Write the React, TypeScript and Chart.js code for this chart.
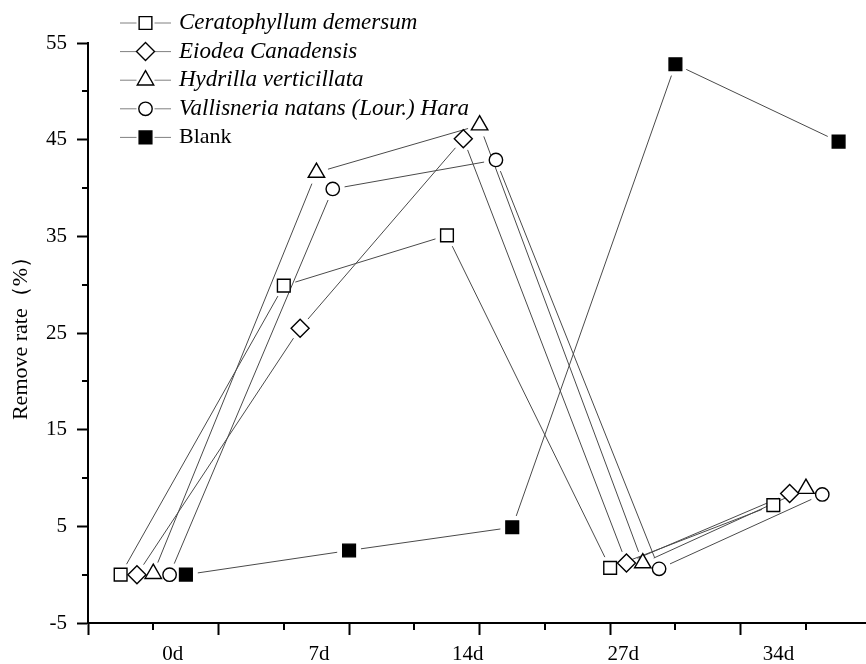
import React, { useEffect, useRef } from 'react';
import { Chart, registerables } from 'chart.js';

Chart.register(...registerables);

// ---- data ----
const categories = ['0d', '7d', '14d', '27d', '34d'];
const categoryCenters = [0.5, 1.75, 3.0, 4.25, 5.5];
const categoryLabelX = [0.65, 1.77, 2.91, 4.1, 5.29];
const seriesNames = [
  'Ceratophyllum demersum',
  'Eiodea Canadensis',
  'Hydrilla verticillata',
  'Vallisneria natans (Lour.) Hara',
  'Blank',
];
const seriesOffsets = [-0.25, -0.125, 0, 0.125, 0.25];
const ceratophyllum = [0, 29.9, 35.1, 0.7, 7.2];
const eiodea = [0, 25.5, 45.1, 1.2, 8.4];
const hydrilla = [0.1, 41.6, 46.5, 1.2, 8.9];
const vallisneria = [0, 39.9, 42.9, 0.6, 8.3];
const blank = [0, 2.5, 4.9, 52.8, 44.8];
const yTickValues = [-5, 0, 5, 10, 15, 20, 25, 30, 35, 40, 45, 50, 55];
const yLabelValues = [-5, 5, 15, 25, 35, 45, 55];
const xMajorTicks = [0, 1, 2, 3, 4, 5];
const xMinorTicks = [0.5, 1.5, 2.5, 3.5, 4.5, 5.5];

const seriesValues = [ceratophyllum, eiodea, hydrilla, vallisneria, blank];
const pointStyles = ['rect', 'rectRot', 'triangle', 'circle', 'rect'];
const pointRadii = [9, 9, 9.5, 6.7, 9];
const pointFills = ['#ffffff', '#ffffff', '#ffffff', '#ffffff', '#000000'];
const italicNames = [true, true, true, true, false];

const FONT = '"Liberation Serif", "Times New Roman", serif';
const LINE_COLOR = '#4a4a4a';
const LEGEND_LINE_COLOR = '#808080';

function drawMarker(ctx: CanvasRenderingContext2D, style: string, x: number, y: number, r: number, fill: string) {
  ctx.save();
  ctx.fillStyle = fill;
  ctx.strokeStyle = '#000';
  ctx.lineWidth = 1.4;
  ctx.beginPath();
  if (style === 'rect') {
    const s = Math.SQRT1_2 * r;
    ctx.rect(x - s, y - s, 2 * s, 2 * s);
  } else if (style === 'rectRot') {
    ctx.moveTo(x, y - r);
    ctx.lineTo(x + r, y);
    ctx.lineTo(x, y + r);
    ctx.lineTo(x - r, y);
    ctx.closePath();
  } else if (style === 'triangle') {
    let rad = 0;
    ctx.moveTo(x + Math.sin(rad) * r, y - Math.cos(rad) * r);
    rad += (2 * Math.PI) / 3;
    ctx.lineTo(x + Math.sin(rad) * r, y - Math.cos(rad) * r);
    rad += (2 * Math.PI) / 3;
    ctx.lineTo(x + Math.sin(rad) * r, y - Math.cos(rad) * r);
    ctx.closePath();
  } else {
    ctx.arc(x, y, r, 0, Math.PI * 2);
  }
  ctx.fill();
  ctx.stroke();
  ctx.restore();
}

const gapLines = {
  id: 'gapLines',
  beforeDatasetsDraw(chart: any) {
    const ctx = chart.ctx;
    const GAP = 12;
    chart.data.datasets.forEach((_ds: any, i: number) => {
      const pts = chart.getDatasetMeta(i).data;
      ctx.save();
      ctx.strokeStyle = LINE_COLOR;
      ctx.lineWidth = 1;
      for (let k = 0; k < pts.length - 1; k++) {
        const a = pts[k];
        const b = pts[k + 1];
        const dx = b.x - a.x;
        const dy = b.y - a.y;
        const len = Math.hypot(dx, dy);
        if (len <= 2 * GAP) continue;
        const ux = dx / len;
        const uy = dy / len;
        ctx.beginPath();
        ctx.moveTo(a.x + ux * GAP, a.y + uy * GAP);
        ctx.lineTo(b.x - ux * GAP, b.y - uy * GAP);
        ctx.stroke();
      }
      ctx.restore();
    });
  },
};

const minorTicks = {
  id: 'minorTicks',
  afterDraw(chart: any) {
    const { ctx, scales } = chart;
    const xs = scales.x;
    const ys = scales.y;
    ctx.save();
    ctx.strokeStyle = '#000';
    ctx.lineWidth = 2;
    yTickValues
      .filter((v) => !yLabelValues.includes(v))
      .forEach((v) => {
        const py = Math.round(ys.getPixelForValue(v));
        ctx.beginPath();
        ctx.moveTo(ys.right - 6, py);
        ctx.lineTo(ys.right, py);
        ctx.stroke();
      });
    xMinorTicks.forEach((v) => {
      const px = Math.round(xs.getPixelForValue(v));
      ctx.beginPath();
      ctx.moveTo(px, xs.top);
      ctx.lineTo(px, xs.top + 7);
      ctx.stroke();
    });
    ctx.restore();
  },
};

const customLegend = {
  id: 'customLegend',
  afterDraw(chart: any) {
    const ctx = chart.ctx;
    const x0 = 120;
    const cx = 145.5;
    const x1 = 171;
    const textX = 179;
    const y0 = 23;
    const dy = 28.6;
    seriesNames.forEach((name, i) => {
      const y = y0 + dy * i;
      ctx.save();
      ctx.strokeStyle = LEGEND_LINE_COLOR;
      ctx.lineWidth = 1;
      ctx.beginPath();
      ctx.moveTo(x0, y);
      ctx.lineTo(cx - 9, y);
      ctx.moveTo(cx + 9, y);
      ctx.lineTo(x1, y);
      ctx.stroke();
      ctx.restore();
      drawMarker(ctx, pointStyles[i], cx, y, pointRadii[i], pointFills[i]);
      ctx.save();
      ctx.fillStyle = '#000';
      ctx.font = italicNames[i] ? `italic 23px ${FONT}` : `22px ${FONT}`;
      ctx.textBaseline = 'middle';
      ctx.textAlign = 'left';
      ctx.fillText(name, textX, y);
      ctx.restore();
    });
  },
};

export default function App() {
  const canvasRef = useRef<HTMLCanvasElement | null>(null);

  useEffect(() => {
    if (!canvasRef.current) return;
    const datasets = seriesNames.map((name, i) => ({
      label: name,
      data: seriesValues[i].map((v, k) => ({ x: categoryCenters[k] + seriesOffsets[i], y: v })),
      showLine: false,
      clip: false,
      pointStyle: pointStyles[i],
      pointRadius: pointRadii[i],
      pointHoverRadius: pointRadii[i],
      pointBackgroundColor: pointFills[i],
      pointBorderColor: '#000',
      pointBorderWidth: 1.4,
      borderColor: LINE_COLOR,
      backgroundColor: pointFills[i],
    }));

    const chart = new Chart(canvasRef.current, {
      type: 'scatter',
      data: { datasets },
      options: {
        animation: false,
        responsive: false,
        devicePixelRatio: 1,
        layout: { autoPadding: false, padding: { top: 43, right: 0, left: 0, bottom: 0 } },
        plugins: {
          legend: { display: false },
          tooltip: { enabled: false },
        },
        scales: {
          x: {
            type: 'linear',
            min: 0,
            max: 5.96,
            afterFit: (s: any) => {
              s.height = 41;
              s.paddingLeft = 0;
              s.paddingRight = 0;
            },
            afterBuildTicks: (s: any) => {
              const vals = [...xMajorTicks, ...categoryLabelX].sort((a, b) => a - b);
              s.ticks = vals.map((v) => ({ value: v }));
            },
            ticks: {
              autoSkip: false,
              maxRotation: 0,
              minRotation: 0,
              padding: 7,
              color: '#000',
              font: { family: FONT, size: 21 },
              callback: (v: any) => {
                const idx = categoryLabelX.indexOf(v);
                return idx >= 0 ? categories[idx] : '';
              },
            },
            grid: {
              drawOnChartArea: false,
              drawTicks: true,
              tickLength: 12,
              tickWidth: 2,
              tickColor: (c: any) => (c.tick && xMajorTicks.includes(c.tick.value) ? '#000' : 'rgba(0,0,0,0)'),
            },
            border: { color: '#000', width: 2 },
          },
          y: {
            type: 'linear',
            min: -5,
            max: 55,
            afterFit: (s: any) => {
              s.width = 88;
              s.paddingTop = 0;
              s.paddingBottom = 0;
            },
            afterBuildTicks: (s: any) => {
              s.ticks = yTickValues.map((v) => ({ value: v }));
            },
            ticks: {
              autoSkip: false,
              padding: 10,
              color: '#000',
              font: { family: FONT, size: 21 },
              callback: (v: any) => (yLabelValues.includes(v) ? String(v) : ''),
            },
            grid: {
              drawOnChartArea: false,
              drawTicks: true,
              tickLength: 11,
              tickWidth: 2,
              tickColor: (c: any) => (c.tick && yLabelValues.includes(c.tick.value) ? '#000' : 'rgba(0,0,0,0)'),
            },
            border: { color: '#000', width: 2 },
            title: {
              display: true,
              text: 'Remove rate（%）',
              color: '#000',
              font: { family: FONT, size: 22 },
              padding: { top: 8, bottom: 0 },
            },
          },
        },
      },
      plugins: [gapLines, minorTicks, customLegend],
    } as any);

    return () => {
      chart.destroy();
    };
  }, []);

  return (
    <div style={{ position: 'absolute', left: 0, top: 0, width: 866, height: 664, background: '#fff' }}>
      <canvas ref={canvasRef} width={866} height={664} style={{ display: 'block' }} />
    </div>
  );
}
